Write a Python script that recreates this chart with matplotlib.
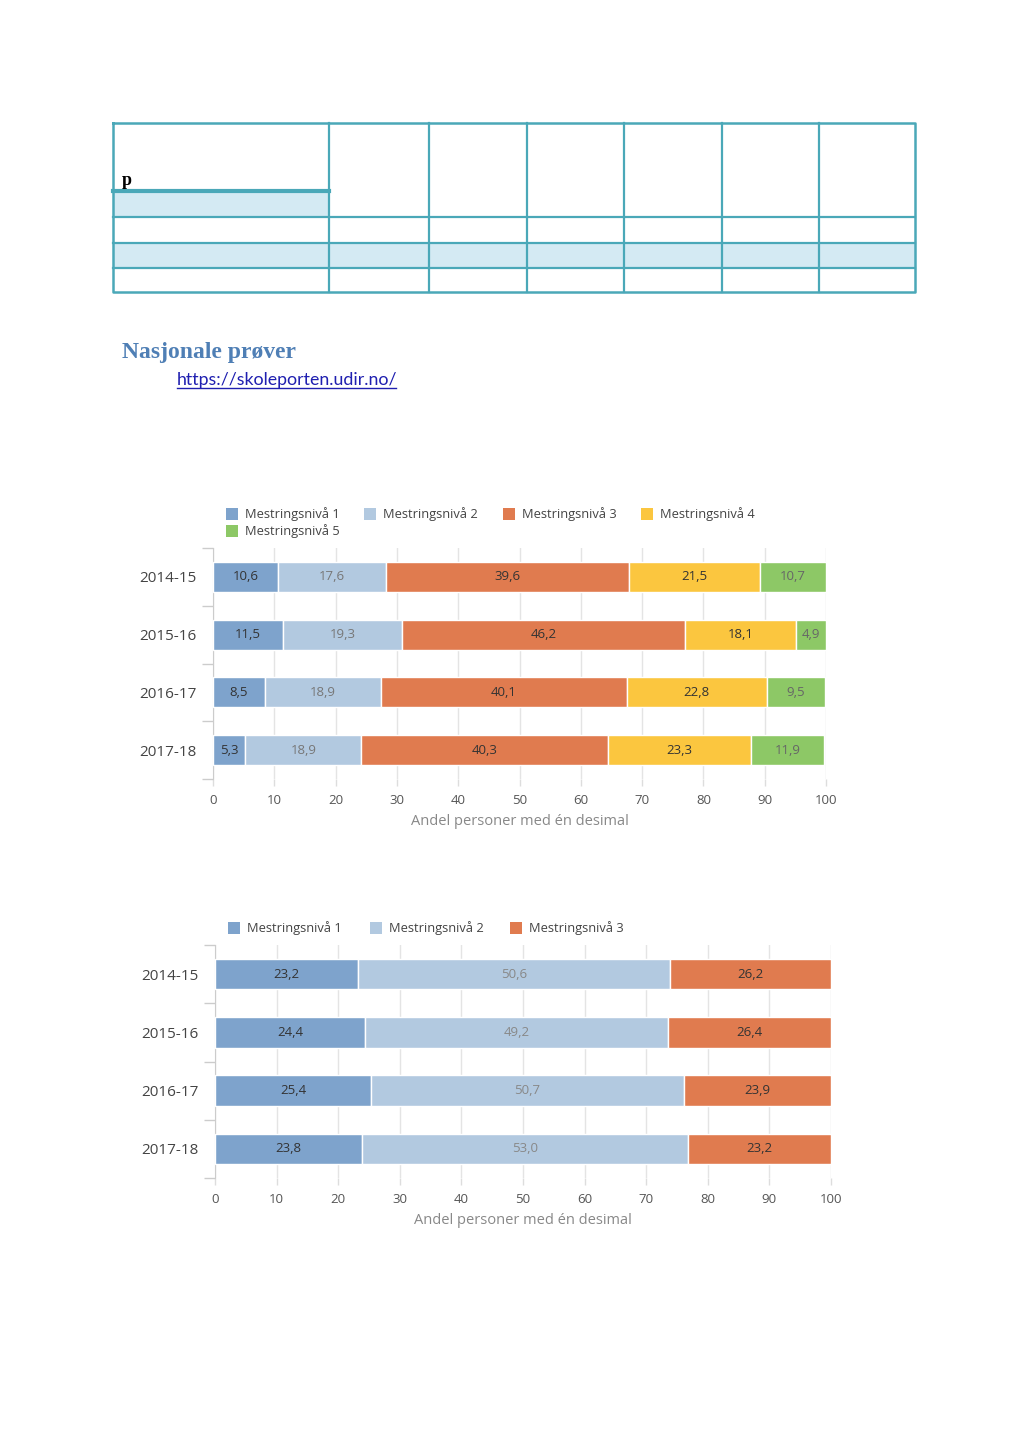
import matplotlib
matplotlib.use("Agg")
import matplotlib.pyplot as plt
import numpy as np

# ---------------- data ----------------
years = ["2014-15", "2015-16", "2016-17", "2017-18"]

# Chart 1 (five mastery levels)
levels5 = ["Mestringsnivå 1", "Mestringsnivå 2", "Mestringsnivå 3",
           "Mestringsnivå 4", "Mestringsnivå 5"]
c1_niva1 = [10.6, 11.5, 8.5, 5.3]
c1_niva2 = [17.6, 19.3, 18.9, 18.9]
c1_niva3 = [39.6, 46.2, 40.1, 40.3]
c1_niva4 = [21.5, 18.1, 22.8, 23.3]
c1_niva5 = [10.7, 4.9, 9.5, 11.9]

# Chart 2 (three mastery levels)
levels3 = ["Mestringsnivå 1", "Mestringsnivå 2", "Mestringsnivå 3"]
c2_niva1 = [23.2, 24.4, 25.4, 23.8]
c2_niva2 = [50.6, 49.2, 50.7, 53.0]
c2_niva3 = [26.2, 26.4, 23.9, 23.2]

xticks = [0, 10, 20, 30, 40, 50, 60, 70, 80, 90, 100]
xlabel = "Andel personer med én desimal"

colors = ["#7ea3cc", "#b2c9e0", "#e07b4f", "#fbc63f", "#8dc866"]

W, H = 1024, 1447
fig = plt.figure(figsize=(W / 100, H / 100), dpi=100)
fig.patch.set_facecolor("white")

FONT = ["Open Sans", "DejaVu Sans"]


def px_axes(left, top, right, bottom):
    return fig.add_axes([left / W, 1 - bottom / H, (right - left) / W, (bottom - top) / H])


# ---------------- page decorations (table, heading, link) ----------------
page = fig.add_axes([0, 0, 1, 1])
page.set_xlim(0, W)
page.set_ylim(H, 0)
page.axis("off")

teal = "#4aa8b8"
fill = "#d4eaf3"
tl, tr, tt, tb = 113, 915, 123, 292
cols = [113, 329, 429, 527, 624, 722, 819, 915]
page.fill_between([113, 329], 192, 217, color=fill, lw=0)
page.fill_between([113, 915], 243, 268, color=fill, lw=0)
page.plot([tl, tr, tr, tl, tl], [tt, tt, tb, tb, tt], color=teal, lw=1.8)
for x in cols[1:-1]:
    page.plot([x, x], [tt, tb], color=teal, lw=1.6)
page.plot([113, 329], [191, 191], color=teal, lw=3.0)
for y in [217, 243, 268]:
    page.plot([113, 915], [y, y], color=teal, lw=1.6)
page.text(122, 185, "p", fontsize=13, fontweight="bold", family="Liberation Serif",
          color="black", va="baseline")

page.text(122, 358, "Nasjonale prøver", fontsize=17, fontweight="bold",
          family="Liberation Serif", color="#4f7fb5", va="baseline")
page.text(177, 385, "https://skoleporten.udir.no/", fontsize=12.8,
          family=["Lato", "DejaVu Sans"], color="#1f1fb0", va="baseline")
page.plot([177, 396], [388, 388], color="#1f1fb0", lw=1.0)


# ---------------- stacked bar chart helper ----------------
def stacked_chart(ax, series, names, legend_rows, legend_y, legend_x, text_colors):
    y = np.arange(len(years))
    left = np.zeros(len(years))
    for i, vals in enumerate(series):
        vals = np.array(vals)
        ax.barh(y, vals, left=left, height=0.52, color=colors[i],
                edgecolor="white", linewidth=1.0, zorder=3)
        for yi, (l, v) in enumerate(zip(left, vals)):
            ax.text(l + v / 2, yi, f"{v:.1f}".replace(".", ","), ha="center",
                    va="center", fontsize=9.5, color=text_colors[i], family=FONT, zorder=4)
        left = left + vals
    ax.set_xlim(0, 100)
    ax.set_ylim(len(years) - 0.5, -0.5)
    ax.set_xticks(xticks)
    ax.set_xticklabels([str(t) for t in xticks], fontsize=9.5, color="#555555", family=FONT)
    ax.set_yticks(y)
    ax.set_yticklabels(years, fontsize=11, color="#444444", family=FONT)
    ax.set_yticks(np.arange(-0.5, len(years)), minor=True)
    ax.tick_params(axis="y", which="major", length=0, pad=12)
    ax.tick_params(axis="y", which="minor", length=8, color="#cccccc", width=1)
    ax.tick_params(axis="x", length=5, color="#dddddd", width=1, pad=6)
    ax.grid(axis="x", color="#e4e4e4", lw=1, zorder=0)
    for s in ["top", "right", "bottom"]:
        ax.spines[s].set_visible(False)
    ax.spines["left"].set_color("#cccccc")
    ax.set_xlabel(xlabel, fontsize=10.5, color="#888888", family=FONT, labelpad=5)
    ax.set_facecolor("white")
    for k, name in enumerate(names):
        r, c = legend_rows[k]
        lx = legend_x[c]
        ly = legend_y[r]
        page.add_patch(plt.Rectangle((lx, ly - 6), 12, 12, color=colors[k], lw=0))
        page.text(lx + 19, ly, name, fontsize=9.3, color="#444444", family=FONT,
                  va="center", ha="left")


ax1 = px_axes(213, 548, 826, 779)
stacked_chart(ax1, [c1_niva1, c1_niva2, c1_niva3, c1_niva4, c1_niva5], levels5,
              [(0, 0), (0, 1), (0, 2), (0, 3), (1, 0)], [514, 531],
              [226, 364, 503, 641],
              ["#333333", "#777777", "#333333", "#333333", "#666666"])

ax2 = px_axes(215, 945, 831, 1178)
stacked_chart(ax2, [c2_niva1, c2_niva2, c2_niva3], levels3,
              [(0, 0), (0, 1), (0, 2)], [928], [228, 370, 510],
              ["#333333", "#888888", "#333333"])

fig.savefig("out.png", dpi=100, facecolor="white")
